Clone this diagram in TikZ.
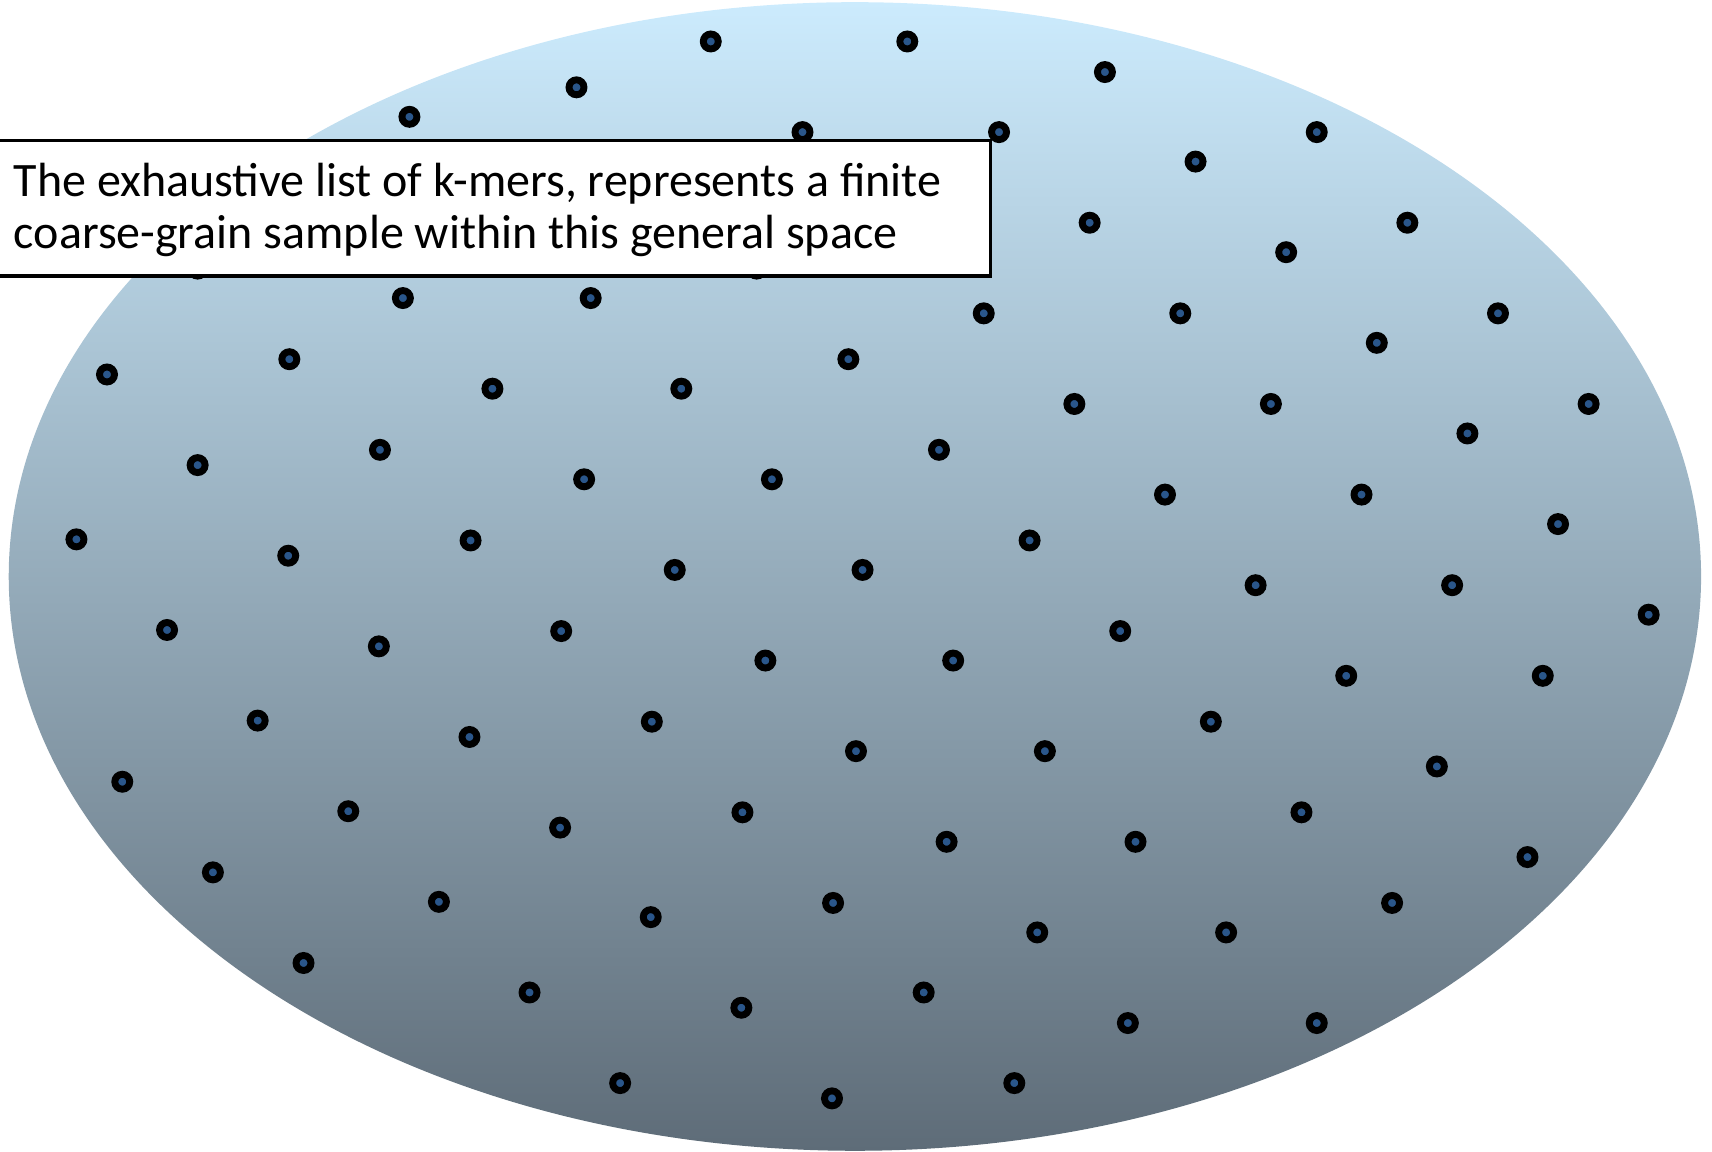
\documentclass[tikz,border=0pt]{standalone}
\usepackage{fontspec}
\newfontfamily\notefont{Carlito}
\definecolor{spacetop}{RGB}{204,235,253}
\definecolor{spacebottom}{RGB}{94,108,120}
\definecolor{kmerblue}{RGB}{42,86,138}

\begin{document}
\begin{tikzpicture}[
        x=0.01cm, y=-0.01cm,
        kmer/.style={circle, draw=black, fill=kmerblue, line width=1.8pt, minimum size=0.137cm, inner sep=0pt},
        notebox/.style={draw=black, line width=0.9pt, fill=white, minimum width=9.15cm, minimum height=1.24cm, inner sep=0pt},
        notetext/.style={align=left, font=\notefont\fontsize{12.5}{13.6}\selectfont, inner sep=0pt}
    ]
        \useasboundingbox (0,0) rectangle (1568,1055);
        % the general space
        \shade[top color=spacetop, bottom color=spacebottom] (783,528) ellipse [x radius=775, y radius=526];
        % k-mers
        \foreach \x/\y [count=\i] in {
            651/38, 831/38, 528/80, 1012/66, 375/107, 735/121, 915/121, 1206/121,
            1095/148, 998/204, 1289/204, 1178/231, 181/246, 693/246,
            369/273, 541/273, 901/287, 1081/287, 1372/287, 1261/314,
            98/343, 265/329, 451/356, 624/356, 777/329, 984/370, 1164/370, 1455/370, 1344/397,
            181/426, 348/412, 535/439, 707/439, 860/412, 1067/453, 1247/453, 1427/480,
            70/494, 264/509, 431/495, 618/522, 790/522, 943/495, 1150/536, 1330/536, 1510/563,
            153/577, 347/592, 514/578, 701/605, 873/605, 1026/578, 1233/619, 1413/619,
            236/660, 430/675, 597/661, 784/688, 957/688, 1109/661, 1316/702,
            112/716, 319/743, 513/758, 680/744, 867/771, 1040/771, 1192/744, 1399/785,
            195/799, 402/826, 596/840, 763/827, 950/854, 1123/854, 1275/827,
            278/882, 485/909, 679/923, 846/909, 1033/937, 1206/937,
            568/992, 762/1006, 929/992}
            \node[kmer] (kmer\i) at (\x,\y) {};
        % note
        \node[notebox, anchor=north west] (note) at (-10,127) {};
        \node[notetext, anchor=base west] (notetext) at (12,227.4) {The exhaustive list of k-mers, represents a finite\\coarse-grain sample within this general space};
    \end{tikzpicture}
\end{document}
